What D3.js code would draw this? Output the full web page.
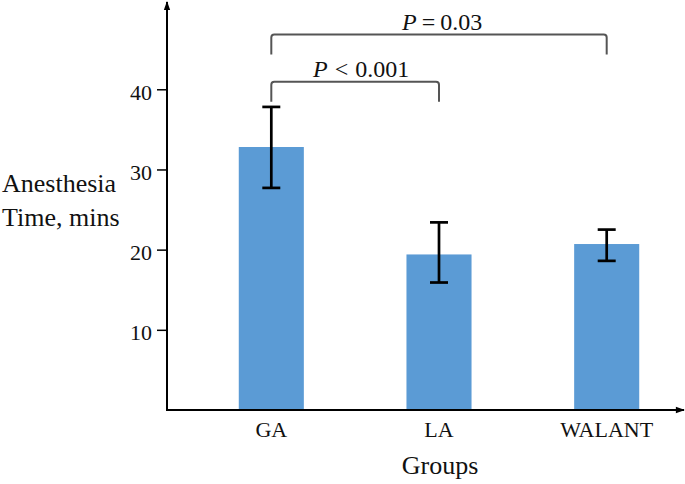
<!DOCTYPE html>
<html>
<head>
<meta charset="utf-8">
<script src="https://cdn.jsdelivr.net/npm/d3@7"></script>
<style>
  html, body { margin: 0; padding: 0; background: #fff; }
  svg { display: block; font-family: "Liberation Serif", "Times New Roman", serif; }
</style>
</head>
<body>
<svg id="chart" width="685" height="484"></svg>
<script>
// ---- data ----
const groups = ["GA", "LA", "WALANT"];
const means = [32.8, 19.4, 20.7];
const errLow = [27.7, 15.9, 18.6];
const errHigh = [37.8, 23.4, 22.5];
const yTicks = [10, 20, 30, 40];
const compFrom = ["GA", "GA"];
const compTo = ["LA", "WALANT"];
const compOp = ["<", "="];
const compP = ["0.001", "0.03"];

// ---- layout ----
const svg = d3.select("#chart");
const x0 = 167, y0 = 410;
const x = d3.scaleBand().domain(groups).range([x0, 711]).paddingInner(0.612).paddingOuter(0.428);
const y = d3.scaleLinear().domain([0, 50]).range([y0, 9.1]);

// bars
svg.append("g").selectAll("rect").data(groups).join("rect")
  .attr("x", d => x(d))
  .attr("width", x.bandwidth())
  .attr("y", (d, i) => y(means[i]))
  .attr("height", (d, i) => y(0) - y(means[i]))
  .attr("fill", "#5b9bd5");

// error bars
const eb = svg.append("g").attr("stroke", "#000").attr("stroke-width", 2.7);
groups.forEach((g, i) => {
  const cx = x(g) + x.bandwidth() / 2;
  eb.append("line").attr("x1", cx).attr("x2", cx).attr("y1", y(errLow[i])).attr("y2", y(errHigh[i]));
  eb.append("line").attr("x1", cx - 9).attr("x2", cx + 9).attr("y1", y(errLow[i])).attr("y2", y(errLow[i]));
  eb.append("line").attr("x1", cx - 9).attr("x2", cx + 9).attr("y1", y(errHigh[i])).attr("y2", y(errHigh[i]));
});

// axes lines with arrows
svg.append("defs").append("marker")
  .attr("id", "arrow").attr("viewBox", "0 0 10 10").attr("refX", 9).attr("refY", 5)
  .attr("markerWidth", 10).attr("markerHeight", 9).attr("markerUnits", "userSpaceOnUse")
  .attr("orient", "auto")
  .append("path").attr("d", "M0,1.5 L10,5 L0,8.5 Z").attr("fill", "#000");

svg.append("line").attr("x1", x0).attr("y1", y0 + 1).attr("x2", x0).attr("y2", 2)
  .attr("stroke", "#000").attr("stroke-width", 2).attr("marker-end", "url(#arrow)");
svg.append("line").attr("x1", x0 - 1).attr("y1", y0).attr("x2", 684).attr("y2", y0)
  .attr("stroke", "#000").attr("stroke-width", 2).attr("marker-end", "url(#arrow)");

// y axis ticks
const yAxis = d3.axisLeft(y).tickValues(yTicks).tickSize(10).tickPadding(5).tickFormat(d3.format("d"));
const gy = svg.append("g").attr("transform", `translate(${x0},0)`).call(yAxis)
  .attr("font-family", "Liberation Serif, serif");
gy.select(".domain").remove();
gy.selectAll(".tick line").attr("stroke", "#000").attr("stroke-width", 1.5);
gy.selectAll(".tick text").attr("font-size", 22).attr("fill", "#111").attr("dy", "0.45em");

// x axis labels
const xAxis = d3.axisBottom(x).tickSize(0).tickPadding(20);
const gx = svg.append("g").attr("transform", `translate(0,${y0})`).call(xAxis)
  .attr("font-family", "Liberation Serif, serif");
gx.select(".domain").remove();
gx.selectAll(".tick text").attr("font-size", 22).attr("fill", "#111").attr("dy", "0.3em");

// axis titles
svg.append("text").attr("x", 440).attr("y", 474).attr("text-anchor", "middle")
  .attr("font-size", 26).attr("fill", "#111").text("Groups");
const yl = svg.append("text").attr("font-size", 26).attr("fill", "#111");
yl.append("tspan").attr("x", 2).attr("y", 192).text("Anesthesia");
yl.append("tspan").attr("x", 2).attr("y", 226).text("Time, mins");

// significance brackets
const levels = [81.7, 34.5];
const drop = 20;
compFrom.forEach((f, i) => {
  const xa = x(f) + x.bandwidth() / 2;
  const xb = x(compTo[i]) + x.bandwidth() / 2;
  const yy = levels[i];
  const r = 3;
  svg.append("path")
    .attr("d", `M${xa},${yy + drop} L${xa},${yy + r} Q${xa},${yy} ${xa + r},${yy} L${xb - r},${yy} Q${xb},${yy} ${xb},${yy + r} L${xb},${yy + drop}`)
    .attr("fill", "none").attr("stroke", "#555").attr("stroke-width", 2);
  const gap = compOp[i] === "<" ? 7 : 5;
  const t = svg.append("text").attr("x", i === 0 ? 313 : 402).attr("y", yy - 5)
    .attr("text-anchor", "start").attr("font-size", 24).attr("fill", "#111");
  t.append("tspan").attr("font-style", "italic").text("P");
  t.append("tspan").attr("dx", gap).text(compOp[i]);
  t.append("tspan").attr("dx", gap).text(compP[i]);
});
</script>
</body>
</html>
